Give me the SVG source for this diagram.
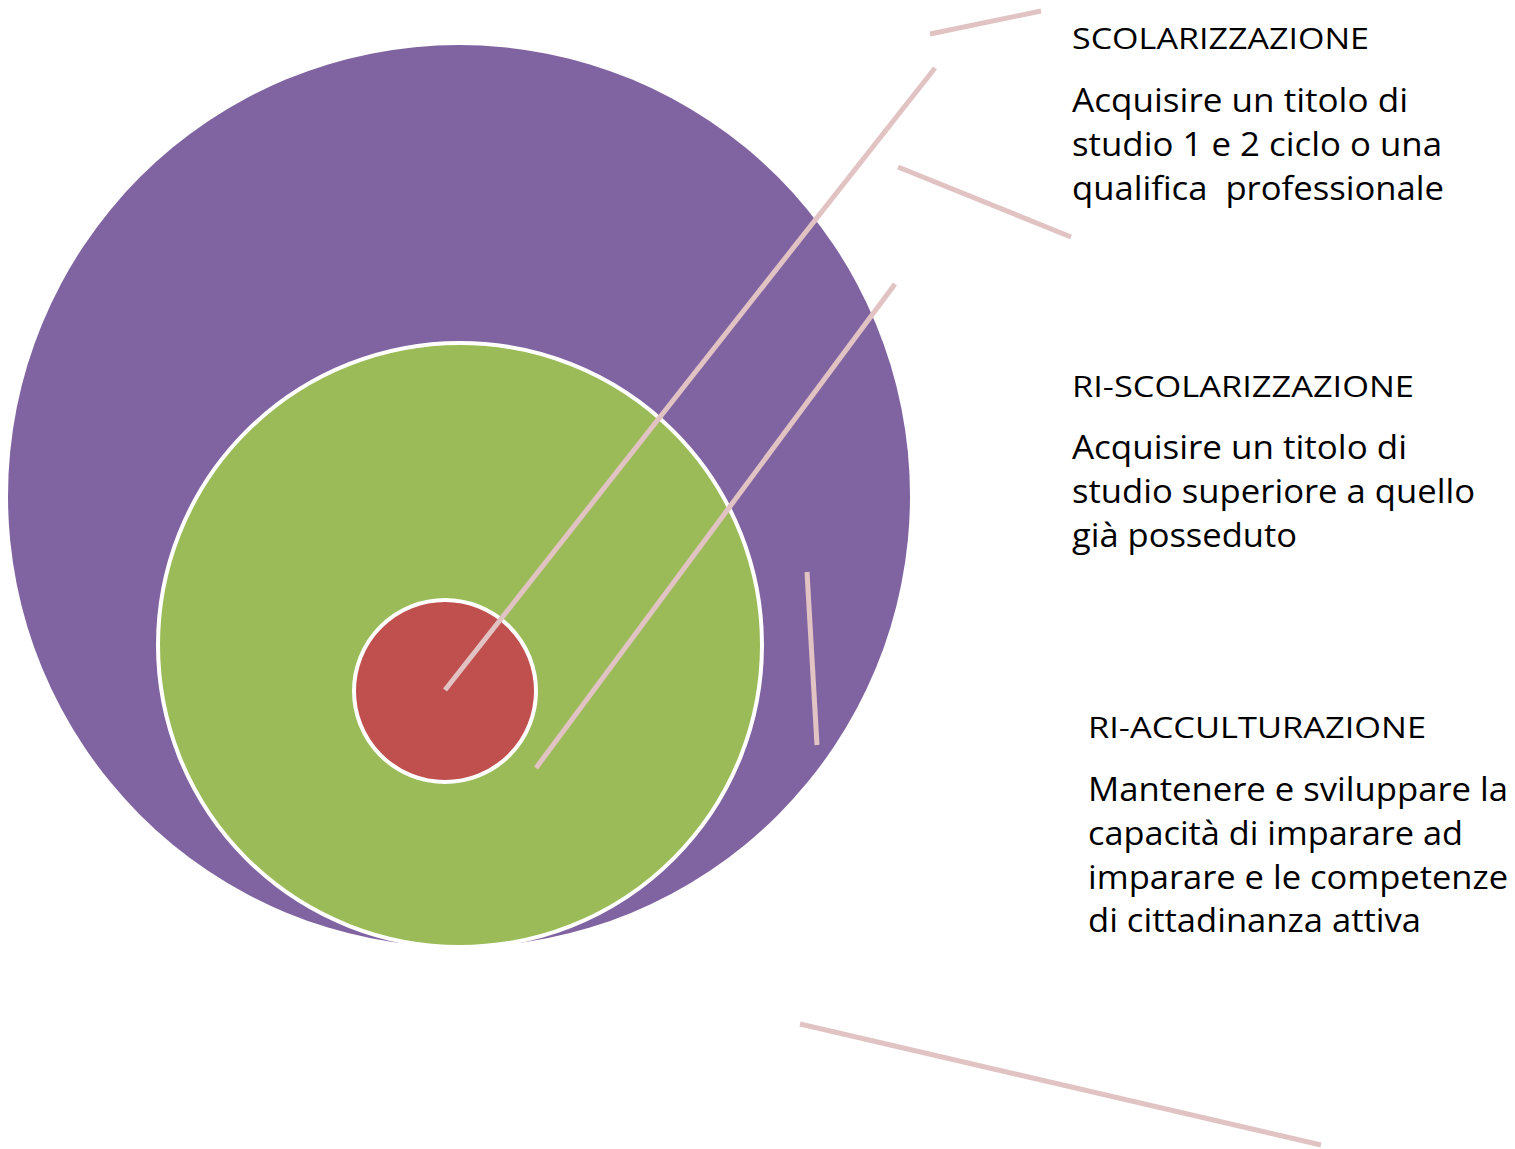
<svg xmlns="http://www.w3.org/2000/svg" width="1515" height="1149" viewBox="0 0 1515 1149">
<style>
.bg{fill:#FFFFFF}
.ring{stroke:#FFFFFF;stroke-width:4}
.ln{stroke:#E2C3C3;stroke-width:5;fill:none}
.t{font-family:"Open Sans","Liberation Sans",sans-serif;fill:#000000}
.h{font-size:29px}
.b{font-size:32px}
</style>
<rect class="bg" x="0" y="0" width="1515" height="1149"/>
<g id="outer">
<circle cx="459" cy="496" r="451" fill="#8064A2"/>
</g>
<g id="middle">
<circle class="ring" cx="460" cy="645" r="302" fill="#9BBB59"/>
</g>
<g id="inner">
<circle class="ring" cx="445" cy="691" r="91" fill="#C0504D"/>
</g>
<g id="connectors">
<line class="ln" x1="930" y1="34" x2="1041" y2="11"/>
<line class="ln" x1="935" y1="68" x2="445" y2="690"/>
<line class="ln" x1="898" y1="167" x2="1071" y2="237"/>
<line class="ln" x1="895" y1="284" x2="536" y2="768"/>
<line class="ln" x1="807" y1="572" x2="817" y2="745"/>
<line class="ln" x1="800" y1="1024" x2="1321" y2="1145"/>
</g>
<g id="label-scolarizzazione">
<text class="t h" x="1072" y="49" textLength="297" lengthAdjust="spacingAndGlyphs">SCOLARIZZAZIONE</text>
<text class="t b" x="1072" y="112" textLength="336" lengthAdjust="spacingAndGlyphs">Acquisire un titolo di</text>
<text class="t b" x="1072" y="156" textLength="370" lengthAdjust="spacingAndGlyphs">studio 1 e 2 ciclo o una</text>
<text class="t b" x="1072" y="200" textLength="372" lengthAdjust="spacingAndGlyphs" xml:space="preserve">qualifica  professionale</text>
</g>
<g id="label-riscolarizzazione">
<text class="t h" x="1072" y="397" textLength="342" lengthAdjust="spacingAndGlyphs">RI-SCOLARIZZAZIONE</text>
<text class="t b" x="1072" y="459" textLength="335" lengthAdjust="spacingAndGlyphs">Acquisire un titolo di</text>
<text class="t b" x="1072" y="503" textLength="403" lengthAdjust="spacingAndGlyphs">studio superiore a quello</text>
<text class="t b" x="1072" y="547" textLength="225" lengthAdjust="spacingAndGlyphs">già posseduto</text>
</g>
<g id="label-riacculturazione">
<text class="t h" x="1088" y="738" textLength="338" lengthAdjust="spacingAndGlyphs">RI-ACCULTURAZIONE</text>
<text class="t b" x="1088" y="801" textLength="420" lengthAdjust="spacingAndGlyphs">Mantenere e sviluppare la</text>
<text class="t b" x="1088" y="845" textLength="375" lengthAdjust="spacingAndGlyphs">capacità di imparare ad</text>
<text class="t b" x="1088" y="889" textLength="420" lengthAdjust="spacingAndGlyphs">imparare e le competenze</text>
<text class="t b" x="1088" y="932" textLength="333" lengthAdjust="spacingAndGlyphs">di cittadinanza attiva</text>
</g>
</svg>
